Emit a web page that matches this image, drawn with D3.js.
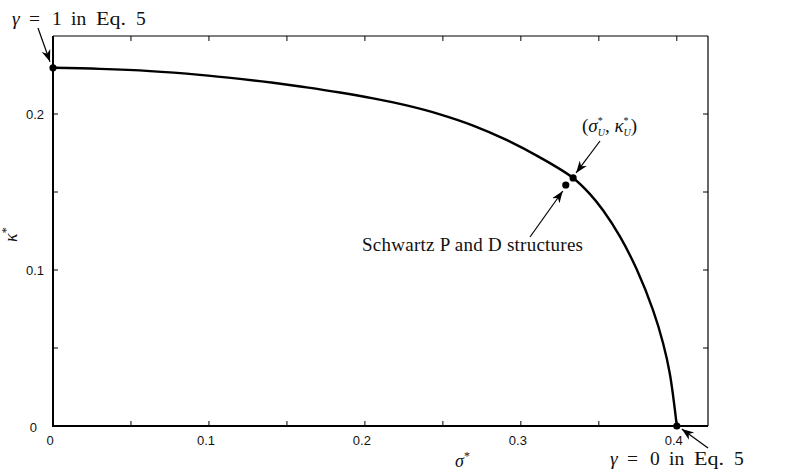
<!DOCTYPE html>
<html>
<head>
<meta charset="utf-8">
<script src="https://cdn.jsdelivr.net/npm/d3@7"></script>
<style>
  body { margin: 0; background: #fff; }
  svg { display: block; }
  .tick-label { font-family: "Liberation Sans", Arial, sans-serif; font-size: 13px; fill: #111; }
  .serif { font-family: "Liberation Serif", "DejaVu Serif", serif; fill: #111; }
</style>
</head>
<body>
<svg id="chart" width="789" height="474"></svg>
<script>
// ---- data ----
const sigmaValues = [0, 0.0301, 0.0622, 0.0942, 0.1199, 0.1412, 0.1626, 0.1840, 0.2053, 0.2267, 0.2481, 0.2694, 0.2908, 0.3122, 0.3335, 0.3442, 0.3528, 0.3635, 0.3742, 0.3848, 0.3912, 0.3955, 0.4];
const kappaValues = [0.2296, 0.2289, 0.2275, 0.2251, 0.2225, 0.2200, 0.2171, 0.2138, 0.2100, 0.2055, 0.1998, 0.1926, 0.1834, 0.1722, 0.1590, 0.1488, 0.1381, 0.1215, 0.1006, 0.0741, 0.0530, 0.0336, 0];
const markedSigma = [0, 0.3335, 0.3288, 0.4];
const markedKappa = [0.2296, 0.1590, 0.1545, 0];
const xMajorTicks = [0, 0.1, 0.2, 0.3, 0.4];
const xTickLabels = ["0", "0.1", "0.2", "0.3", "0.4"];
const yMajorTicks = [0, 0.1, 0.2];
const yTickLabels = ["0", "0.1", "0.2"];
const xMinorTicks = [0.05, 0.1, 0.15, 0.2, 0.25, 0.3, 0.35, 0.4];
const yMinorTicks = [0.05, 0.1, 0.15, 0.2];

const svg = d3.select("#chart");
const L = 53, R = 708, T = 36, B = 426;
const x = d3.scaleLinear().domain([0, 0.42]).range([L, R]);
const y = d3.scaleLinear().domain([0, 0.25]).range([B, T]);

// arrow marker
const defs = svg.append("defs");
defs.append("marker")
  .attr("id", "arrow").attr("markerUnits", "userSpaceOnUse")
  .attr("viewBox", "-12 -6 14 12").attr("refX", 0).attr("refY", 0)
  .attr("markerWidth", 14).attr("markerHeight", 12).attr("orient", "auto")
  .append("path").attr("d", "M0,0 L-12,-4.5 L-8.5,0 L-12,4.5 Z").attr("fill", "#000");

// minor/mirror ticks (inward) on all four sides
const tl = 5;
const g = svg.append("g");
xMinorTicks.forEach(v => {
  g.append("line").attr("x1", x(v)).attr("x2", x(v)).attr("y1", B).attr("y2", B - tl).attr("stroke", "#000").attr("stroke-width", 1);
  g.append("line").attr("x1", x(v)).attr("x2", x(v)).attr("y1", T).attr("y2", T + tl).attr("stroke", "#000").attr("stroke-width", 1);
});
yMinorTicks.forEach(v => {
  g.append("line").attr("x1", L).attr("x2", L + tl).attr("y1", y(v)).attr("y2", y(v)).attr("stroke", "#000").attr("stroke-width", 1);
  g.append("line").attr("x1", R).attr("x2", R - tl).attr("y1", y(v)).attr("y2", y(v)).attr("stroke", "#000").attr("stroke-width", 1);
});

// frame
g.append("line").attr("x1", L).attr("x2", R).attr("y1", T).attr("y2", T).attr("stroke", "#000").attr("stroke-width", 1.2);
g.append("line").attr("x1", R).attr("x2", R).attr("y1", T).attr("y2", B).attr("stroke", "#000").attr("stroke-width", 1.2);
g.append("line").attr("x1", L).attr("x2", L).attr("y1", T).attr("y2", B + 1).attr("stroke", "#000").attr("stroke-width", 2);
g.append("line").attr("x1", L - 1).attr("x2", R).attr("y1", B).attr("y2", B).attr("stroke", "#000").attr("stroke-width", 2);

// tick labels
xMajorTicks.forEach((v, i) => {
  svg.append("text").attr("class", "tick-label").attr("x", x(v) - 3).attr("y", 445)
    .attr("text-anchor", "middle").text(xTickLabels[i]);
});
yMajorTicks.forEach((v, i) => {
  svg.append("text").attr("class", "tick-label").attr("x", v === 0 ? 37 : 44).attr("y", y(v) + 5 + (v === 0 ? 1 : 0))
    .attr("text-anchor", "end").text(yTickLabels[i]);
});

// curve
const line = d3.line().x(d => x(d[0])).y(d => y(d[1])).curve(d3.curveCatmullRom.alpha(0.5));
svg.append("path").datum(sigmaValues.map((s, i) => [s, kappaValues[i]]))
  .attr("d", line).attr("fill", "none").attr("stroke", "#000").attr("stroke-width", 2.4);

// marked points
svg.selectAll("circle.pt").data(markedSigma.map((s, i) => [s, markedKappa[i]])).enter()
  .append("circle").attr("class", "pt").attr("cx", d => x(d[0])).attr("cy", d => y(d[1])).attr("r", 3.6).attr("fill", "#000");

// axis labels
const xl = svg.append("text").attr("class", "serif").attr("x", 455).attr("y", 467).attr("font-size", 18);
xl.append("tspan").attr("font-style", "italic").text("σ");
xl.append("tspan").attr("font-size", 12).attr("dy", -7).text("*");

const yl = svg.append("text").attr("class", "serif").attr("transform", "translate(17,242) rotate(-90)").attr("font-size", 18);
yl.append("tspan").attr("font-style", "italic").text("κ");
yl.append("tspan").attr("font-size", 12).attr("dy", -7).text("*");

// annotations
function ann(x1, y1, x2, y2) {
  svg.append("line").attr("x1", x1).attr("y1", y1).attr("x2", x2).attr("y2", y2)
    .attr("stroke", "#000").attr("stroke-width", 1.2).attr("marker-end", "url(#arrow)");
}
function gammaLabel(tx, ty, val) {
  const t = svg.append("text").attr("class", "serif").attr("y", ty).attr("font-size", 19.5);
  t.append("tspan").attr("x", tx).attr("font-style", "italic").text("γ");
  t.append("tspan").attr("x", tx + 17).text("=");
  t.append("tspan").attr("x", tx + 40).text(String(val));
  t.append("tspan").attr("x", tx + 59).text("in");
  t.append("tspan").attr("x", tx + 84).attr("textLength", 30).attr("lengthAdjust", "spacingAndGlyphs").text("Eq.");
  t.append("tspan").attr("x", tx + 124).text("5");
}
gammaLabel(12, 25, 1);
ann(38, 28, x(0) - 3, y(0.2296) - 6);
gammaLabel(610, 465, 0);
ann(708, 448, x(0.4) + 5, y(0) + 3);

const ul = svg.append("text").attr("class", "serif").attr("x", 582).attr("y", 132).attr("font-size", 19);
ul.append("tspan").text("(");
ul.append("tspan").attr("font-style", "italic").text("σ");
ul.append("tspan").attr("font-size", 10).attr("dy", -8).text("*");
ul.append("tspan").attr("font-size", 10).attr("font-style", "italic").attr("dx", -5).attr("dy", 12).text("U");
ul.append("tspan").attr("dy", -4).text(", ");
ul.append("tspan").attr("font-style", "italic").text("κ");
ul.append("tspan").attr("font-size", 10).attr("dy", -8).text("*");
ul.append("tspan").attr("font-size", 10).attr("font-style", "italic").attr("dx", -5).attr("dy", 12).text("U");
ul.append("tspan").attr("dy", -4).text(")");
ann(600, 141, x(0.3335) + 3, y(0.1590) - 5);

svg.append("text").attr("class", "serif").attr("x", 362).attr("y", 251).attr("font-size", 19)
  .attr("textLength", 221).attr("lengthAdjust", "spacing").text("Schwartz P and D structures");
ann(530, 237, x(0.3288) - 3, y(0.1545) + 6);
</script>
</body>
</html>
